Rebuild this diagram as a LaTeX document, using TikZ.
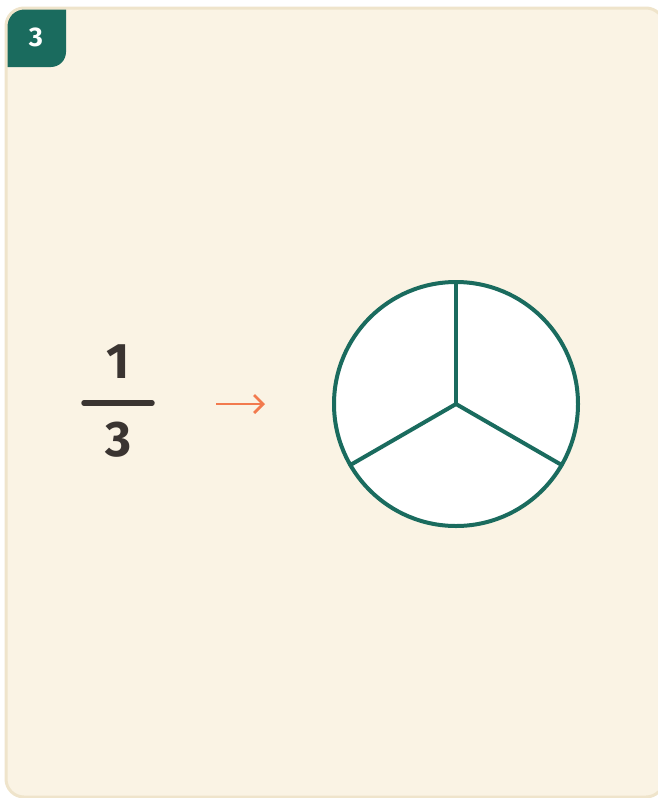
\documentclass[tikz,border=0pt]{standalone}
\usepackage{fontspec}
\setmainfont{Fira Sans}
\definecolor{cardbg}{RGB}{250,243,228}
\definecolor{cardedge}{RGB}{239,228,203}
\definecolor{tealgreen}{RGB}{26,107,94}
\definecolor{inkdark}{RGB}{58,52,49}
\definecolor{arroworange}{RGB}{242,122,78}
\usetikzlibrary{arrows.meta}

\begin{document}
\begin{tikzpicture}[x=1pt, y=-1pt, every node/.style={align=center},
    digit/.style={font=\fontsize{50}{60}\selectfont\bfseries, text=inkdark, inner sep=0pt},
    spoke/.style={draw=tealgreen, line width=4pt, line cap=round}]
  \useasboundingbox (0,0) rectangle (658,798);
  \def\rc{18pt}
  % card
  \fill[cardbg, rounded corners=\rc] (6,8) rectangle (664,797);
  \begin{scope}
    \clip[rounded corners=\rc] (6,8) rectangle (664,797);
    \fill[tealgreen, rounded corners=15pt] (-30,-30) rectangle (66,67);
  \end{scope}
  \draw[cardedge, line width=3pt, rounded corners=\rc] (6,8) rectangle (664,797);
  \node[font=\fontsize{27}{30}\selectfont\bfseries, text=white] (badge) at (36,37) {3};
  % fraction
  \node[digit] (numer) at (118,362) {1};
  \node[digit] (denom) at (118,440) {3};
  \coordinate (barL) at (84,403);
  \coordinate (barR) at (152,403);
  \draw[inkdark, line width=5.5pt, line cap=round] (barL) -- (barR);
  % arrow
  \coordinate (arrS) at (216,404);
  \coordinate (arrE) at (265,404);
  \draw[arroworange, line width=2.8pt, -{Straight Barb[length=9pt, width=18pt, line width=2.8pt]}] (arrS) -- (arrE);
  % pie in thirds
  \node[circle, draw=tealgreen, fill=white, line width=4pt, minimum size=244pt,
        inner sep=0pt, outer sep=0pt] (pie) at (456,404) {};
  \foreach \a in {90,210,330}
    \draw[spoke] (pie.center) -- (pie.\a);
\end{tikzpicture}
\end{document}
